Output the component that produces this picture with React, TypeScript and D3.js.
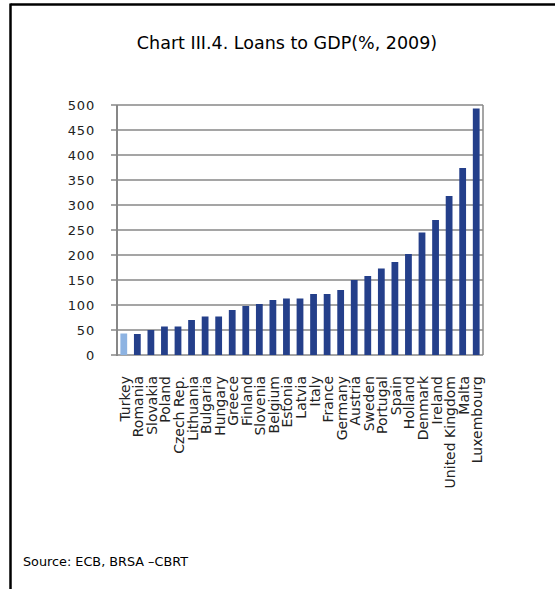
import React from "react";
import * as d3 from "d3";

const categories = [
  "Turkey", "Romania", "Slovakia", "Poland", "Czech Rep.", "Lithuania", "Bulgaria",
  "Hungary", "Greece", "Finland", "Slovenia", "Belgium", "Estonia", "Latvia", "Italy",
  "France", "Germany", "Austria", "Sweden", "Portugal", "Spain", "Holland", "Denmark",
  "Ireland", "United Kingdom", "Malta", "Luxembourg",
];
const values = [
  43, 42, 50, 57, 57, 70, 77, 77, 90, 98, 102, 110, 113, 113, 122, 122, 130, 150,
  158, 173, 186, 202, 245, 270, 318, 374, 493,
];
const yTicks = [0, 50, 100, 150, 200, 250, 300, 350, 400, 450, 500];
const title = "Chart III.4. Loans to GDP(%, 2009)";
const source = "Source: ECB, BRSA \u2013CBRT";

const W = 555;
const H = 589;
const plot = { left: 117, right: 483, top: 105, bottom: 355 };
const FONT = "'DejaVu Sans', sans-serif";

export default function App() {
  const x = d3
    .scaleBand<string>()
    .domain(categories)
    .range([plot.left, plot.right])
    .paddingInner(0.5)
    .paddingOuter(0.25);
  const y = d3.scaleLinear().domain([0, 500]).range([plot.bottom, plot.top]);
  const grid = "#878787";

  return (
    <svg
      width={W}
      height={H}
      style={{ position: "absolute", left: 0, top: 0, background: "#fff" }}
    >
      <rect x={0} y={0} width={W} height={H} fill="#fff" />
      {/* frame */}
      <line x1={10.5} x2={W} y1={4.5} y2={4.5} stroke="#000" strokeWidth={2.5} />
      <line x1={10.5} x2={10.5} y1={3.5} y2={H} stroke="#000" strokeWidth={2.5} />

      <text
        x={287}
        y={49}
        textAnchor="middle"
        fontFamily={FONT}
        fontSize={17.5}
        fill="#000"
      >
        {title}
      </text>

      {/* gridlines and y ticks */}
      {yTicks.map((t) => (
        <g key={t}>
          <line
            x1={plot.left - 6}
            x2={plot.right}
            y1={y(t)}
            y2={y(t)}
            stroke={grid}
            strokeWidth={1.5}
          />
          <text
            x={95}
            y={y(t)}
            dy="0.36em"
            textAnchor="end"
            fontFamily={FONT}
            fontSize={13}
            letterSpacing={0.8}
            fill="#222"
          >
            {t}
          </text>
        </g>
      ))}
      <line
        x1={plot.left}
        x2={plot.left}
        y1={plot.top}
        y2={plot.bottom + 1}
        stroke={grid}
        strokeWidth={2}
      />
      <line
        x1={plot.right}
        x2={plot.right}
        y1={plot.top}
        y2={plot.bottom}
        stroke={grid}
        strokeWidth={1.5}
      />

      {/* bars */}
      {categories.map((c, i) => (
        <rect
          key={c}
          x={x(c)!}
          y={y(values[i])}
          width={x.bandwidth()}
          height={y(0) - y(values[i])}
          fill={i === 0 ? "#8DB3E2" : "#243F8A"}
        />
      ))}

      {/* category labels */}
      {categories.map((c) => {
        const cx = x(c)! + x.bandwidth() / 2;
        return (
          <text
            key={c}
            transform={`translate(${cx + 1},${376}) rotate(-90)`}
            dy="0.36em"
            textAnchor="end"
            fontFamily={FONT}
            fontSize={14}
            fill="#222"
          >
            {c}
          </text>
        );
      })}

      <text x={23} y={566} fontFamily={FONT} fontSize={12.8} fill="#000">
        {source}
      </text>
    </svg>
  );
}
